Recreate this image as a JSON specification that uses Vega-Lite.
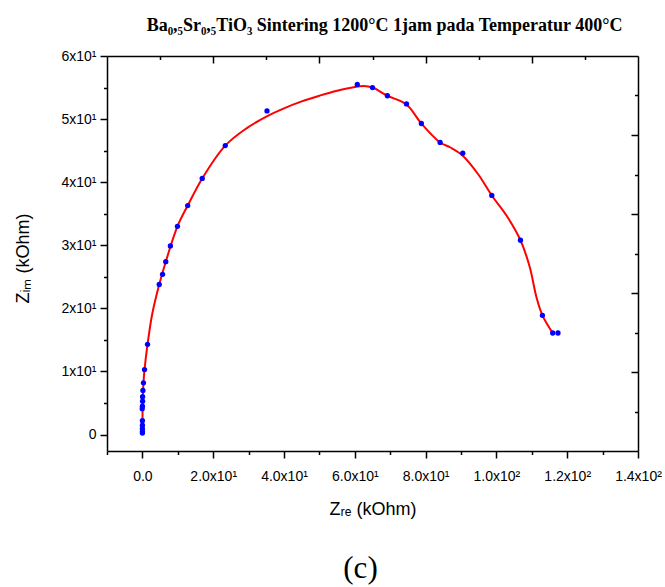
{
  "$schema": "https://vega.github.io/schema/vega-lite/v6.json",
  "background": "white",
  "autosize": {"type": "none"},
  "padding": {"left": 107, "top": 56, "right": 27, "bottom": 136},
  "width": 531,
  "height": 395,
  "title": {"text": "(c)", "orient": "bottom", "frame": "group", "anchor": "middle", "font": "Liberation Serif", "fontSize": 31, "fontWeight": "normal", "color": "#000000", "dx": -12, "offset": 36},
  "datasets": {
    "pts": [
      {"zre": 0.0, "zim": 0.25}, {"zre": 0.0, "zim": 0.5}, {"zre": 0.0, "zim": 0.95}, {"zre": 0.0, "zim": 1.5},
      {"zre": 0.0, "zim": 2.2}, {"zre": -0.05, "zim": 4.1}, {"zre": 0.0, "zim": 4.5}, {"zre": 0.05, "zim": 5.3},
      {"zre": 0.05, "zim": 6.0}, {"zre": 0.15, "zim": 7.0}, {"zre": 0.3, "zim": 8.2}, {"zre": 0.6, "zim": 10.3},
      {"zre": 1.45, "zim": 14.3}, {"zre": 4.75, "zim": 23.8}, {"zre": 5.7, "zim": 25.4}, {"zre": 6.6, "zim": 27.4},
      {"zre": 7.9, "zim": 29.9}, {"zre": 9.9, "zim": 33.0}, {"zre": 12.8, "zim": 36.3}, {"zre": 16.9, "zim": 40.6},
      {"zre": 23.4, "zim": 45.8}, {"zre": 35.2, "zim": 51.3}, {"zre": 60.7, "zim": 55.5}, {"zre": 65.0, "zim": 55.0},
      {"zre": 69.2, "zim": 53.7}, {"zre": 74.6, "zim": 52.4}, {"zre": 78.8, "zim": 49.3}, {"zre": 84.1, "zim": 46.3},
      {"zre": 90.5, "zim": 44.6}, {"zre": 98.7, "zim": 37.9}, {"zre": 106.8, "zim": 30.8}, {"zre": 113.0, "zim": 18.9},
      {"zre": 115.9, "zim": 16.1}, {"zre": 117.4, "zim": 16.1}
    ],
    "fit": [
      {"zre": 0.0, "zim": 0.3}, {"zre": 0.02, "zim": 2.0}, {"zre": 0.06, "zim": 4.0}, {"zre": 0.14, "zim": 6.0},
      {"zre": 0.3, "zim": 8.2}, {"zre": 0.6, "zim": 10.3}, {"zre": 1.45, "zim": 14.3}, {"zre": 2.8, "zim": 19.2},
      {"zre": 4.75, "zim": 23.8}, {"zre": 6.6, "zim": 27.4}, {"zre": 9.9, "zim": 33.0}, {"zre": 12.8, "zim": 36.3},
      {"zre": 16.9, "zim": 40.6}, {"zre": 23.4, "zim": 45.8}, {"zre": 29.3, "zim": 48.5}, {"zre": 35.0, "zim": 50.4},
      {"zre": 40.0, "zim": 51.7}, {"zre": 45.0, "zim": 52.8}, {"zre": 50.0, "zim": 53.7}, {"zre": 55.0, "zim": 54.5},
      {"zre": 60.0, "zim": 55.1}, {"zre": 62.5, "zim": 55.25}, {"zre": 65.0, "zim": 55.0}, {"zre": 69.2, "zim": 53.7},
      {"zre": 74.6, "zim": 52.3}, {"zre": 78.8, "zim": 49.3}, {"zre": 84.1, "zim": 46.3}, {"zre": 87.0, "zim": 45.5},
      {"zre": 90.5, "zim": 44.2}, {"zre": 94.8, "zim": 41.3}, {"zre": 98.7, "zim": 37.9}, {"zre": 103.0, "zim": 34.6},
      {"zre": 106.8, "zim": 30.8}, {"zre": 109.4, "zim": 26.6}, {"zre": 111.3, "zim": 21.8}, {"zre": 113.0, "zim": 18.9},
      {"zre": 115.9, "zim": 16.1}
    ]
  },
  "resolve": {"axis": {"x": "independent", "y": "independent"}},
  "layer": [
    {
      "data": {"name": "fit"},
      "mark": {"type": "line", "color": "#ff0000", "strokeWidth": 2, "interpolate": "catmull-rom"},
      "encoding": {
        "x": {"field": "zre", "type": "quantitative", "scale": {"domain": [-10, 140], "nice": false, "zero": false},
          "axis": {"orient": "bottom", "values": [0, 20, 40, 60, 80, 100, 120, 140], "tickSize": 7, "labelPadding": 11, "labelFlush": false, "labelOverlap": false,
            "labelExpr": "datum.value == 0 ? '0.0' : (datum.value < 100 ? format(datum.value / 10, '.1f') + 'x10¹' : format(datum.value / 100, '.1f') + 'x10²')",
            "title": "Zᵣₑ (kOhm)", "titleBaseline": "alphabetic", "titleY": 63}},
        "y": {"field": "zim", "type": "quantitative", "scale": {"domain": [-2.6, 60], "nice": false, "zero": false},
          "axis": {"orient": "left", "values": [0, 10, 20, 30, 40, 50, 60], "tickSize": 7, "labelPadding": 4, "labelFlush": false, "labelOverlap": false,
            "labelExpr": "datum.value == 0 ? '0' : format(datum.value / 10, 'd') + 'x10¹'",
            "title": "Zᵢₘ (kOhm)", "titleBaseline": "alphabetic", "titleX": -79, "titleY": 202}}
      }
    },
    {
      "data": {"name": "pts"},
      "mark": {"type": "point", "filled": true, "color": "#0000ff", "opacity": 1, "size": 28},
      "encoding": {
        "x": {"field": "zre", "type": "quantitative", "scale": {"domain": [-10, 140], "nice": false, "zero": false},
          "axis": {"orient": "bottom", "values": [-10, 10, 30, 50, 70, 90, 110, 130], "tickSize": 3.5, "labels": false, "domain": false, "title": null}},
        "y": {"field": "zim", "type": "quantitative", "scale": {"domain": [-2.6, 60], "nice": false, "zero": false},
          "axis": {"orient": "left", "values": [5, 15, 25, 35, 45, 55], "tickSize": 3.5, "labels": false, "domain": false, "title": null}}
      }
    },
    {
      "data": {"name": "pts"},
      "mark": {"type": "point", "opacity": 0},
      "encoding": {
        "x": {"field": "zre", "type": "quantitative", "scale": {"domain": [-10, 140], "nice": false, "zero": false},
          "axis": {"orient": "top", "values": [20, 50, 80, 110], "tickSize": -7, "labels": false, "domain": true,
            "title": "Ba₀,₅Sr₀,₅TiO₃ Sintering 1200°C 1jam pada Temperatur 400°C",
            "titleFont": "Liberation Serif", "titleFontSize": 18, "titleFontWeight": "bold", "titleBaseline": "alphabetic", "titleX": 277, "titleY": -26}},
        "y": {"field": "zim", "type": "quantitative", "scale": {"domain": [-2.6, 60], "nice": false, "zero": false},
          "axis": {"orient": "right", "values": [47.48, 34.96, 22.44, 9.92], "tickSize": -7, "labels": false, "domain": true, "title": null}}
      }
    },
    {
      "data": {"name": "pts"},
      "mark": {"type": "point", "opacity": 0},
      "encoding": {
        "x": {"field": "zre", "type": "quantitative", "scale": {"domain": [-10, 140], "nice": false, "zero": false},
          "axis": {"orient": "top", "values": [5, 35, 65, 95, 125], "tickSize": -3.5, "labels": false, "domain": false, "title": null}},
        "y": {"field": "zim", "type": "quantitative", "scale": {"domain": [-2.6, 60], "nice": false, "zero": false},
          "axis": {"orient": "right", "values": [53.74, 41.22, 28.7, 16.18, 3.66], "tickSize": -3.5, "labels": false, "domain": false, "title": null}}
      }
    }
  ],
  "config": {
    "view": {"stroke": null},
    "axis": {
      "grid": false, "ticks": true,
      "domainColor": "#000000", "domainWidth": 1.5,
      "tickColor": "#000000", "tickWidth": 1.5,
      "labelFont": "Liberation Sans", "labelFontSize": 14, "labelColor": "#000000",
      "titleFont": "Liberation Sans", "titleFontSize": 18, "titleFontWeight": "normal", "titleColor": "#000000"
    }
  }
}
